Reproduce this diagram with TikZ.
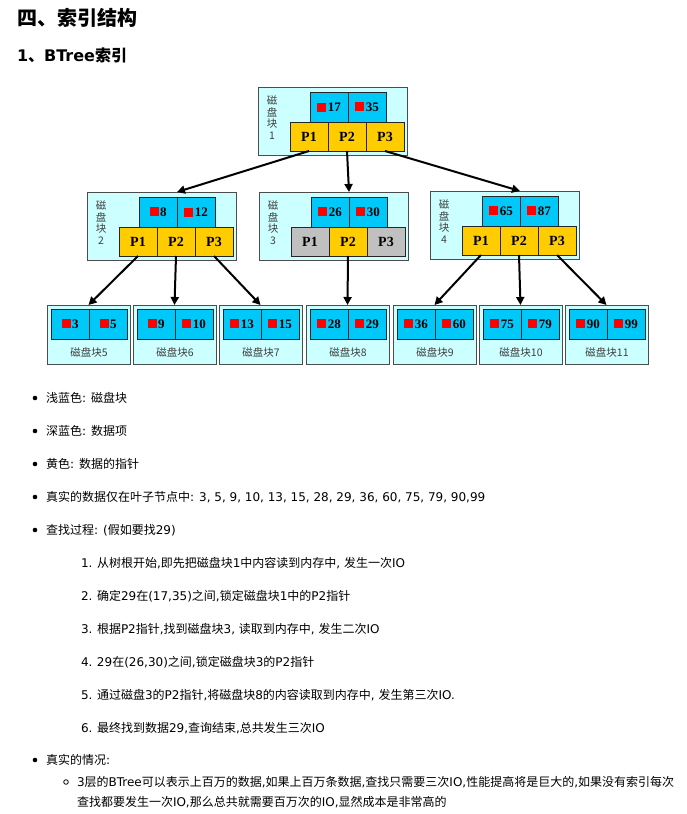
\documentclass[tikz,border=0pt]{standalone}
\usepackage{fontspec}
\setmainfont{Noto Sans CJK SC}
\newfontfamily\tms{Liberation Serif}
\newfontfamily\dejavu{DejaVu Sans}
\newcommand\vd[1]{{\dejavu#1}}
\usetikzlibrary{positioning,arrows.meta}
\definecolor{disk}{HTML}{CCFFFF}
\definecolor{item}{HTML}{00C8F8}
\definecolor{ptr}{HTML}{FFCC00}
\definecolor{gry}{HTML}{C0C0C0}
\newcommand\redsq{\textcolor{red}{\rule{9pt}{9pt}}\kern1.5pt}

\begin{document}
\begin{tikzpicture}[x=1pt,y=-1pt,
  every node/.style={inner sep=0pt,outer sep=0pt},%
  blk/.style={draw=black!70,fill=disk,line width=0.8pt,minimum width=149pt,minimum height=68pt,anchor=north west},%
  lf/.style={draw=black!70,fill=disk,line width=0.8pt,minimum width=83pt,minimum height=59pt,anchor=north west},%
  d/.style={draw=black!85,fill=item,line width=0.8pt,minimum width=38pt,minimum height=30pt,%
    font=\tms\bfseries\fontsize{13}{13}\selectfont},%
  p/.style={draw=black!85,fill=ptr,line width=0.8pt,minimum width=38pt,minimum height=29pt,%
    font=\tms\bfseries\fontsize{14}{14}\selectfont},%
  lb/.style={text=black!75,font=\fontsize{10.5}{11.5}\selectfont,align=center},%
  e/.style={-{Triangle[length=8pt,width=8pt]},line width=2pt},%
  tx/.style={anchor=west,font=\fontsize{12}{12}\selectfont},%
  hd/.style={anchor=west,font=\bfseries\fontsize{#1}{#1}\selectfont},%
  ]
  \useasboundingbox[fill=white] (0,0) rectangle (686,814);

  % headings
  \node (h1) [hd=20] at (17,18) {四、索引结构};
  \node (h2) [hd=16] at (17,55) {\vd{1}、\vd{BTree}索引};

  % inner disk blocks
  \foreach \n/\x/\y/\ka/\kb/\c in {1/258/87/17/35/ptr,2/87/192/8/12/ptr,%
    3/259/192/26/30/gry,4/430/191/65/87/ptr}{
    \node (b\n) [blk] at (\x,\y) {};
    \node (b\n-t) [lb,anchor=north] at (\x+14,\y+9) {磁\\盘\\块\\\n};
    \node (b\n-a) [d,anchor=north west] at (\x+52,\y+5) {\redsq\ka};
    \node (b\n-b) [d,right=0pt of b\n-a] {\redsq\kb};
    \node (b\n-p1) [p,fill=\c,anchor=north west] at (\x+32,\y+35) {P1};
    \node (b\n-p2) [p,right=0pt of b\n-p1] {P2};
    \node (b\n-p3) [p,fill=\c,right=0pt of b\n-p2] {P3};
  }

  % leaf disk blocks
  \foreach \i/\x/\ka/\kb in {5/51/3/5,6/137/9/10,7/223/13/15,8/310/28/29,%
    9/397/36/60,10/483/75/79,11/569/90/99}{
    \node (l\i) [lf] at (\x-4,305) {};
    \node (l\i-a) [d,anchor=north west] at (\x,309) {\redsq\ka};
    \node (l\i-b) [d,right=0pt of l\i-a] {\redsq\kb};
    \node (l\i-t) [lb] at (\x+38,352) {磁盘块\i};
  }

  \draw [e] (b1-p1.south) -- (b2-a.north east |- b2.north);
  \draw [e] (b1-p2.south) -- (b3-a.north east |- b3.north);
  \draw [e] (b1-p3.south) -- (b4-a.north east |- b4.north);
  \foreach \s/\t in {b2-p1/l5,b2-p2/l6,b2-p3/l7,b3-p2/l8,b4-p1/l9,b4-p2/l10,b4-p3/l11}
    \draw [e] (\s.south) -- (\t.north);

  % notes
  \foreach \y in {398,431,464,497,530,760} \fill (35,\y) circle (2.3pt);
  \draw [line width=0.8pt] (66,782) circle (2.3pt);
  \node (i1) [tx] at (46,398) {浅蓝色\vd{: }磁盘块};
  \node (i2) [tx] at (46,431) {深蓝色\vd{: }数据项};
  \node (i3) [tx] at (46,464) {黄色\vd{: }数据的指针};
  \node (i4) [tx] at (46,497) {真实的数据仅在叶子节点中\vd{: 3, 5, 9, 10, 13, 15, 28, 29, 36, 60, 75, 79, 90,99}};
  \node (i5) [tx] at (46,530) {查找过程\vd{: (}假如要找\vd{29)}};
  \node (n1) [tx] at (81,563) {\makebox[16pt][l]{\vd{1.}}从树根开始\vd{,}即先把磁盘块\vd{1}中内容读到内存中\vd{, }发生一次\vd{IO}};
  \node (n2) [tx] at (81,596) {\makebox[16pt][l]{\vd{2.}}确定\vd{29}在\vd{(17,35)}之间\vd{,}锁定磁盘块\vd{1}中的\vd{P2}指针};
  \node (n3) [tx] at (81,629) {\makebox[16pt][l]{\vd{3.}}根据\vd{P2}指针\vd{,}找到磁盘块\vd{3, }读取到内存中\vd{, }发生二次\vd{IO}};
  \node (n4) [tx] at (81,662) {\makebox[16pt][l]{\vd{4.}}\vd{29}在\vd{(26,30)}之间\vd{,}锁定磁盘块\vd{3}的\vd{P2}指针};
  \node (n5) [tx] at (81,695) {\makebox[16pt][l]{\vd{5.}}通过磁盘\vd{3}的\vd{P2}指针\vd{,}将磁盘块\vd{8}的内容读取到内存中\vd{, }发生第三次\vd{IO.}};
  \node (n6) [tx] at (81,728) {\makebox[16pt][l]{\vd{6.}}最终找到数据\vd{29,}查询结束\vd{,}总共发生三次\vd{IO}};
  \node (i6) [tx] at (46,760) {真实的情况\vd{:}};
  \node (s1) [tx] at (77,782) {\vd{3}层的\vd{BTree}可以表示上百万的数据\vd{,}如果上百万条数据\vd{,}查找只需要三次\vd{IO,}性能提高将是巨大的\vd{,}如果没有索引每次};
  \node (s2) [tx] at (77,802) {查找都要发生一次\vd{IO,}那么总共就需要百万次的\vd{IO,}显然成本是非常高的};
\end{tikzpicture}
\end{document}
